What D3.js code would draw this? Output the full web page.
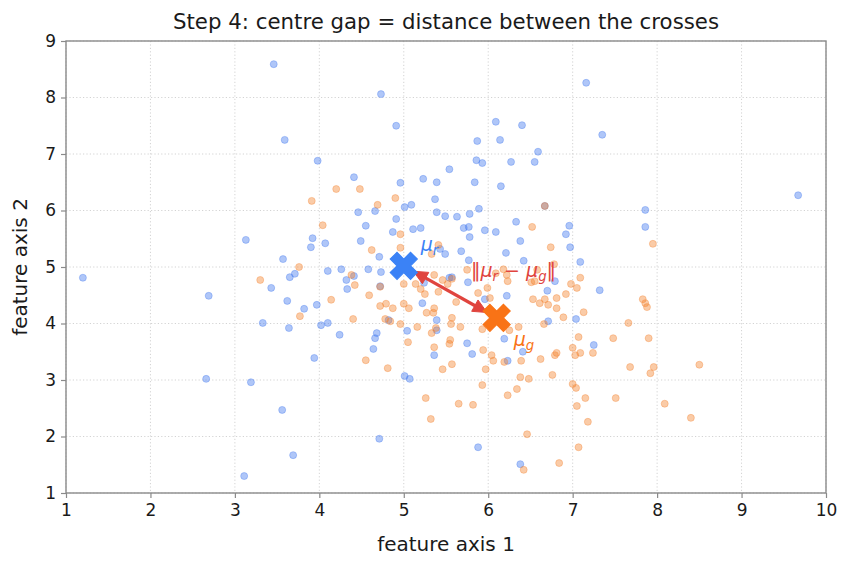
<!DOCTYPE html>
<html><head><meta charset="utf-8">
<script src="https://cdn.jsdelivr.net/npm/d3@7"></script>
<style>
body{margin:0;background:#fff}
text{font-family:"DejaVu Sans",sans-serif}
</style>
</head><body>
<svg id="c" width="852" height="567"></svg>
<script>
// ---- data ----
const bluePoints = [
[3.46,8.59],[4.73,8.06],[4.91,7.50],[3.59,7.25],[3.98,6.88],[7.16,8.26],[7.35,7.34],[6.09,7.57],[6.40,7.51],[5.87,7.23],
[6.14,7.25],[6.59,7.04],[5.86,6.89],[5.93,6.84],[6.27,6.86],[6.55,6.86],[4.41,6.59],[4.96,6.49],[5.23,6.56],[5.39,6.50],
[5.54,6.73],[5.84,6.50],[6.15,6.43],[6.67,6.08],[5.37,6.20],[5.01,6.06],[5.09,6.10],[4.46,5.97],[4.66,5.99],[5.39,5.97],
[5.49,5.90],[5.63,5.89],[5.78,5.94],[5.89,6.03],[4.91,5.85],[4.55,5.73],[4.87,5.62],[5.11,5.67],[5.20,5.69],[5.71,5.69],
[5.77,5.71],[5.78,5.53],[5.96,5.65],[6.09,5.62],[6.33,5.80],[6.38,5.46],[6.21,5.25],[6.42,5.11],[6.92,5.58],[6.96,5.73],
[6.97,5.35],[4.49,5.46],[4.07,5.42],[3.92,5.51],[3.90,5.35],[4.71,5.18],[5.68,5.28],[5.49,5.23],[5.43,5.32],[9.67,6.27],
[7.86,6.01],[7.86,5.71],[7.09,5.09],[3.13,5.48],[3.57,5.14],[1.20,4.81],[2.69,4.49],[3.65,4.82],[3.71,4.88],[3.43,4.63],
[3.62,4.40],[3.82,4.26],[3.97,4.33],[3.33,4.01],[3.64,3.92],[4.02,3.97],[3.94,3.39],[2.66,3.02],[3.19,2.96],[3.56,2.47],
[3.69,1.67],[3.11,1.30],[4.10,4.93],[4.26,4.96],[4.58,4.96],[4.73,4.91],[4.41,4.84],[4.32,4.77],[4.33,4.61],[4.72,4.66],
[4.10,4.01],[4.24,3.80],[4.68,3.83],[4.66,3.74],[4.64,3.55],[4.82,4.06],[5.04,3.87],[5.01,3.07],[5.07,3.02],[5.22,4.36],
[5.39,4.06],[5.39,3.88],[5.36,3.44],[5.54,4.81],[5.57,4.82],[5.76,4.73],[5.24,4.72],[5.77,5.12],[5.96,4.43],[6.22,4.49],
[6.19,3.73],[5.75,3.65],[5.81,3.46],[6.23,3.34],[6.41,3.50],[6.70,4.58],[6.79,4.75],[6.71,4.04],[4.71,1.96],[5.88,1.81],
[6.38,1.51],[7.04,4.08],[7.32,4.59],[7.25,3.62]
];
const orangePoints = [
[3.91,6.17],[4.20,6.38],[4.48,6.38],[4.69,6.10],[4.90,6.22],[4.04,5.74],[4.96,5.58],[4.62,5.30],[4.96,5.34],[5.41,5.39],
[5.33,5.23],[6.52,5.71],[6.74,5.35],[6.78,5.05],[7.95,5.41],[3.76,5.00],[3.30,4.77],[3.77,4.13],[6.67,6.08],[4.38,4.86],
[4.42,4.68],[4.59,4.50],[4.72,4.65],[4.14,4.42],[4.72,4.31],[4.79,4.35],[4.87,4.27],[5.00,4.35],[5.06,4.27],[4.40,4.08],
[4.78,4.08],[4.84,4.04],[4.96,3.99],[5.16,3.94],[5.05,3.67],[4.55,3.35],[4.81,3.21],[5.00,4.70],[5.14,4.70],[5.20,4.61],
[5.25,4.52],[5.36,4.86],[5.41,4.56],[5.46,4.77],[5.27,4.19],[5.35,4.19],[5.36,4.27],[5.33,3.83],[5.38,3.92],[5.36,3.58],
[5.46,3.19],[5.57,3.28],[5.57,4.10],[5.56,3.99],[5.67,3.94],[5.55,3.71],[5.54,3.64],[5.62,4.38],[5.75,4.95],[5.88,4.54],
[5.99,4.63],[6.02,4.45],[6.09,4.89],[6.18,4.96],[6.22,4.86],[6.23,4.75],[6.51,4.73],[6.55,4.75],[6.58,4.95],[5.94,3.53],
[6.04,3.44],[6.06,3.34],[5.97,3.19],[6.19,3.32],[5.93,2.91],[6.39,3.34],[6.38,3.05],[6.48,3.02],[6.62,3.37],[6.79,3.44],
[6.81,3.48],[6.76,3.09],[6.23,2.73],[6.34,2.84],[5.26,2.68],[5.65,2.58],[5.82,2.56],[5.32,2.31],[6.46,2.04],[6.84,1.53],
[6.42,1.41],[6.36,3.94],[5.93,3.90],[6.53,4.43],[6.61,4.36],[6.67,4.43],[6.81,4.45],[6.81,4.27],[6.89,4.11],[6.66,3.99],
[6.92,4.52],[5.52,4.70],[6.25,3.88],[7.00,3.57],[7.09,3.48],[7.00,2.93],[7.04,2.86],[7.15,2.68],[7.05,2.54],[6.71,4.33],
[7.13,4.20],[7.09,4.81],[6.98,4.70],[7.05,4.63],[7.83,4.43],[7.86,4.36],[7.88,4.29],[7.66,4.01],[7.07,3.76],[7.48,3.74],
[7.90,3.74],[7.03,3.44],[7.24,3.48],[7.68,3.23],[7.96,3.23],[7.92,3.12],[8.50,3.27],[7.51,2.68],[8.09,2.58],[8.40,2.33],
[7.18,2.26],[7.07,1.81],[5.57,4.79]
];
const centreR = [5.00, 5.02];
const centreG = [6.10, 4.10];
const xTicks = [1,2,3,4,5,6,7,8,9,10];
const yTicks = [1,2,3,4,5,6,7,8,9];
const titleText = "Step 4: centre gap = distance between the crosses";
const xLabel = "feature axis 1";
const yLabel = "feature axis 2";

// ---- styles ----
const BLUE = "#3b82f6", ORANGE = "#f97316", RED = "#e0443e";
const PT_BLUE = "#4178ee", PT_ORANGE = "#f4822e";
const W = 852, H = 567;
const m = {left:66, right:26, top:41, bottom:74};
const pw = W - m.left - m.right, ph = H - m.top - m.bottom;

const svg = d3.select("#c");
const x = d3.scaleLinear().domain([1,10]).range([m.left, m.left+pw]);
const y = d3.scaleLinear().domain([1,9]).range([m.top+ph, m.top]);

// grid
const grid = svg.append("g");
grid.selectAll("line.gx").data(xTicks).join("line")
  .attr("x1", d=>x(d)).attr("x2", d=>x(d)).attr("y1", m.top).attr("y2", m.top+ph)
  .attr("stroke", "#c8c8c8").attr("stroke-width", 0.8).attr("stroke-dasharray", "1.2,2.2");
grid.selectAll("line.gy").data(yTicks).join("line")
  .attr("y1", d=>y(d)).attr("y2", d=>y(d)).attr("x1", m.left).attr("x2", m.left+pw)
  .attr("stroke", "#c8c8c8").attr("stroke-width", 0.8).attr("stroke-dasharray", "1.2,2.2");

// scatter
function scatter(data, col){
  svg.append("g").selectAll("circle").data(data).join("circle")
    .attr("cx", d=>x(d[0])).attr("cy", d=>y(d[1])).attr("r", 3.5)
    .attr("fill", col).attr("fill-opacity", 0.42)
    .attr("stroke", col).attr("stroke-opacity", 0.35).attr("stroke-width", 1);
}
scatter(bluePoints, PT_BLUE);
scatter(orangePoints, PT_ORANGE);

// double-headed arrow between centres (shrunk at both ends)
(function(){
  const x1 = x(centreR[0]), y1 = y(centreR[1]), x2 = x(centreG[0]), y2 = y(centreG[1]);
  const dx = x2-x1, dy = y2-y1, L = Math.hypot(dx,dy), ux = dx/L, uy = dy/L;
  const shrink = 11, hl = 14, hw = 6.5;
  const ax = x1+ux*shrink, ay = y1+uy*shrink, bx = x2-ux*shrink, by = y2-uy*shrink;
  const g = svg.append("g");
  g.append("line").attr("x1", ax+ux*hl*0.8).attr("y1", ay+uy*hl*0.8)
    .attr("x2", bx-ux*hl*0.8).attr("y2", by-uy*hl*0.8)
    .attr("stroke", RED).attr("stroke-width", 3.2);
  function head(tx,ty,sx,sy){
    const bxx = tx - sx*hl, byy = ty - sy*hl;
    const px = -sy*hw, py = sx*hw;
    g.append("path").attr("d", `M${tx},${ty}L${bxx+px},${byy+py}L${bxx-px},${byy-py}Z`)
      .attr("fill", RED).attr("stroke", RED).attr("stroke-width", 1).attr("stroke-linejoin","miter");
  }
  head(ax, ay, -ux, -uy);
  head(bx, by, ux, uy);
})();

// filled X markers (matplotlib 'X' shape)
const xShape = [[0.25,0],[0.5,0.25],[0.75,0],[1,0.25],[0.75,0.5],[1,0.75],[0.75,1],[0.5,0.75],[0.25,1],[0,0.75],[0.25,0.5],[0,0.25]];
function cross(c, col){
  const s = 27;
  const pts = xShape.map(p => [x(c[0]) + (p[0]-0.5)*s, y(c[1]) + (p[1]-0.5)*s]);
  svg.append("path").attr("d", "M" + pts.map(p=>p.join(",")).join("L") + "Z")
    .attr("fill", col).attr("stroke", col).attr("stroke-width", 1.2).attr("stroke-linejoin","miter");
}
cross(centreR, BLUE);
cross(centreG, ORANGE);

// math-like labels
function mathLabel(px, py, col, size, parts){
  const t = svg.append("text").attr("x", px).attr("y", py).attr("fill", col).attr("font-size", size);
  parts.forEach(p => {
    const ts = t.append("tspan").text(p.t);
    if (p.it) ts.attr("font-style", "italic");
    if (p.sub) ts.attr("font-size", size*0.7).attr("dy", size*0.22);
    if (p.up) ts.attr("dy", -size*0.22);
  });
  return t;
}
mathLabel(x(centreR[0])+17, y(centreR[1])-15, BLUE, 19, [{t:"μ",it:1},{t:"r",it:1,sub:1}]);
mathLabel(x(centreG[0])+17, y(centreG[1])+28, ORANGE, 19, [{t:"μ",it:1},{t:"g",it:1,sub:1}]);
mathLabel(471, 277, RED, 19, [{t:"‖"},{t:"μ",it:1},{t:"r",it:1,sub:1},{t:" − ",up:1},{t:"μ",it:1},{t:"g",it:1,sub:1},{t:"‖",up:1}]);

// spines
svg.append("rect").attr("x", m.left).attr("y", m.top).attr("width", pw).attr("height", ph)
  .attr("fill", "none").attr("stroke", "#8a8a8a").attr("stroke-width", 1.4);

// axes
const xAxis = svg.append("g").attr("transform", `translate(0,${m.top+ph})`)
  .call(d3.axisBottom(x).tickValues(xTicks).tickFormat(d3.format("d")).tickSize(5).tickPadding(6));
const yAxis = svg.append("g").attr("transform", `translate(${m.left},0)`)
  .call(d3.axisLeft(y).tickValues(yTicks).tickFormat(d3.format("d")).tickSize(5).tickPadding(5));
[xAxis, yAxis].forEach(a => {
  a.select(".domain").remove();
  a.selectAll(".tick line").attr("stroke", "#8a8a8a").attr("stroke-width", 1.2);
  a.selectAll(".tick text").attr("fill", "#1a1a1a").attr("font-size", 17).attr("font-family", "DejaVu Sans");
});

// title and axis labels
svg.append("text").attr("x", m.left+pw/2).attr("y", 29).attr("text-anchor", "middle")
  .attr("font-size", 21.3).attr("fill", "#1a1a1a").text(titleText);
svg.append("text").attr("x", m.left+pw/2).attr("y", 551).attr("text-anchor", "middle")
  .attr("font-size", 20).attr("fill", "#1a1a1a").text(xLabel);
svg.append("text").attr("transform", `translate(27,${m.top+ph/2}) rotate(-90)`).attr("text-anchor", "middle")
  .attr("font-size", 20).attr("fill", "#1a1a1a").text(yLabel);
</script>
</body></html>
